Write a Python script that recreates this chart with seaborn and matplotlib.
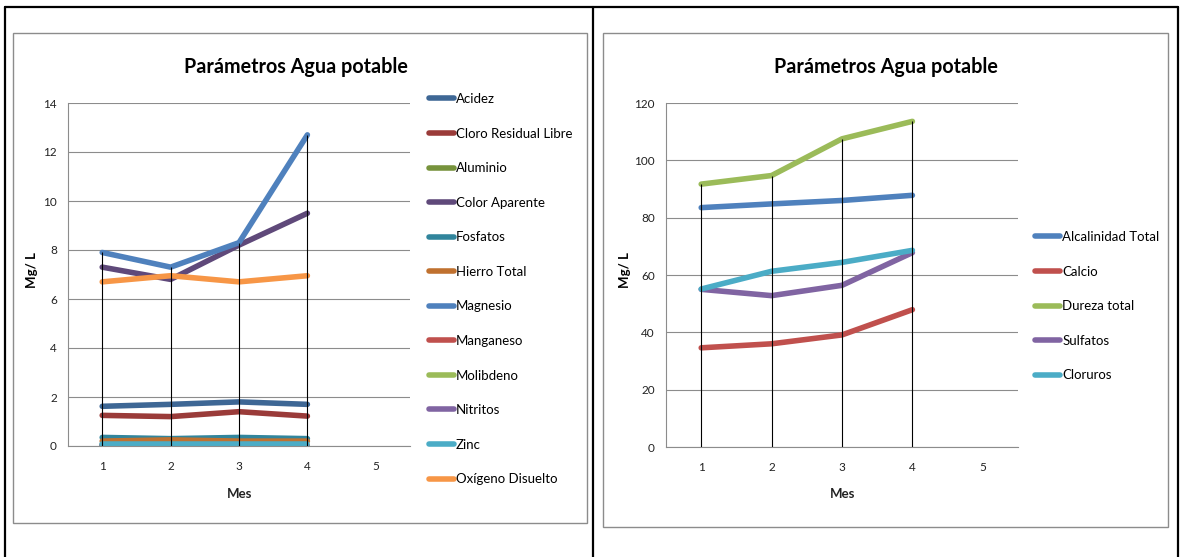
import pandas as pd
import seaborn as sns
import matplotlib.pyplot as plt
from matplotlib.patches import Rectangle
from matplotlib.lines import Line2D

# meses medidos
meses = [1, 2, 3, 4]
mes_ticks = [1, 2, 3, 4, 5]

# grafico izquierdo (Mg/L)
nombres_izq = ["Acidez", "Cloro Residual Libre", "Aluminio", "Color Aparente",
               "Fosfatos", "Hierro Total", "Magnesio", "Manganeso",
               "Molibdeno", "Nitritos", "Zinc", "Oxígeno Disuelto"]
acidez = [1.62, 1.7, 1.8, 1.7]
cloro = [1.25, 1.2, 1.4, 1.22]
aluminio = [0.02, 0.02, 0.02, 0.02]
color_ap = [7.3, 6.8, 8.2, 9.5]
fosfatos = [0.35, 0.3, 0.35, 0.3]
hierro = [0.2, 0.25, 0.2, 0.2]
magnesio = [7.9, 7.3, 8.3, 12.7]
manganeso = [0.05, 0.05, 0.05, 0.05]
molibdeno = [0.01, 0.01, 0.01, 0.01]
nitritos = [0.01, 0.01, 0.01, 0.01]
zinc = [0.08, 0.08, 0.08, 0.08]
oxigeno = [6.7, 6.95, 6.7, 6.95]
valores_izq = [acidez, cloro, aluminio, color_ap, fosfatos, hierro, magnesio,
               manganeso, molibdeno, nitritos, zinc, oxigeno]
colores_izq = ["#3E6795", "#9A3B39", "#77933C", "#5F497A", "#31859C", "#C0712F",
               "#4F81BD", "#C0504D", "#9BBB59", "#8064A2", "#4BACC6", "#F79646"]

# grafico derecho
nombres_der = ["Alcalinidad Total", "Calcio", "Dureza total", "Sulfatos", "Cloruros"]
alcalinidad = [83.5, 84.8, 86.0, 87.8]
calcio = [34.6, 36.0, 39.1, 47.9]
dureza = [91.7, 94.7, 107.5, 113.6]
sulfatos = [55.0, 52.8, 56.4, 67.8]
cloruros = [55.1, 61.3, 64.4, 68.6]
valores_der = [alcalinidad, calcio, dureza, sulfatos, cloruros]
colores_der = ["#4F81BD", "#C0504D", "#9BBB59", "#8064A2", "#4BACC6"]

sns.set_style("white")
plt.rcParams["font.family"] = ["Lato", "DejaVu Sans"]
plt.rcParams["text.color"] = "black"

W, H = 1183, 557
fig = plt.figure(figsize=(W / 100, H / 100), dpi=100)


def fx(px):
    return px / W


def fy(py):
    return 1 - py / H


def grafico(rect, nombres, valores, colores, ymax, ystep, leg_xy):
    df = pd.DataFrame({
        "Mes": [m for v in valores for m in meses],
        "valor": [x for v in valores for x in v],
        "serie": [n for n, v in zip(nombres, valores) for _ in v],
    })
    ax = fig.add_axes(rect)
    sns.lineplot(data=df, x="Mes", y="valor", hue="serie", hue_order=nombres,
                 palette=colores, linewidth=4, sort=False, legend=False,
                 ax=ax, solid_capstyle="round", solid_joinstyle="round")
    # lineas de caida desde el maximo
    tope = df.groupby("Mes")["valor"].max()
    ax.vlines(tope.index, 0, tope.values, colors="black", linewidth=0.8, zorder=5)
    ax.set_xlim(0.5, 5.5)
    ax.set_ylim(0, ymax)
    ax.set_xticks(mes_ticks)
    ax.set_yticks(range(0, ymax + 1, ystep))
    ax.yaxis.grid(True, color="#8c8c8c", linewidth=0.8)
    ax.set_axisbelow(True)
    for s in ["top", "right"]:
        ax.spines[s].set_visible(False)
    for s in ["left", "bottom"]:
        ax.spines[s].set_color("#8c8c8c")
        ax.spines[s].set_linewidth(0.8)
    ax.tick_params(axis="y", length=4, color="#8c8c8c", labelsize=8.5,
                   labelcolor="#222222", pad=4)
    ax.tick_params(axis="x", length=0, labelsize=8.5, labelcolor="#222222", pad=11)
    ax.set_xlabel("")
    ax.set_ylabel("")
    handles = [Line2D([0], [0], color=c, linewidth=4, solid_capstyle="round")
               for c in colores]
    ax.legend(handles, nombres, loc="upper left", bbox_to_anchor=leg_xy,
              bbox_transform=fig.transFigure, frameon=False, fontsize=9.5,
              handlelength=1.9, handletextpad=0.15, labelspacing=1.71,
              borderpad=0, borderaxespad=0)
    return ax


grafico([fx(68), fy(446), fx(410) - fx(68), fy(103) - fy(446)],
        nombres_izq, valores_izq, colores_izq, 14, 2, (fx(429), fy(93)))
grafico([fx(666), fy(447), fx(1018) - fx(666), fy(103) - fy(447)],
        nombres_der, valores_der, colores_der, 120, 20, (fx(1035), fy(231)))

# titulos y etiquetas
for cx, ylx, mx in [(296, 32, 240), (886, 625, 843)]:
    fig.text(fx(cx), fy(67), "Parámetros Agua potable", ha="center", va="center",
             fontsize=14.2, fontweight="bold")
    fig.text(fx(ylx), fy(270), "Mg/ L", ha="center", va="center", rotation=90,
             fontsize=9.5, fontweight="bold")
    fig.text(fx(mx), fy(494), "Mes", ha="center", va="center",
             fontsize=9.5, fontweight="bold", color="#222222")

# marcos de los graficos
fig.patches.append(Rectangle((fx(13), fy(523)), fx(587) - fx(13), fy(33) - fy(523),
                             transform=fig.transFigure, fill=False,
                             edgecolor="#8c8c8c", linewidth=1))
fig.patches.append(Rectangle((fx(603), fy(527)), fx(1168) - fx(603), fy(33) - fy(527),
                             transform=fig.transFigure, fill=False,
                             edgecolor="#8c8c8c", linewidth=1))

# bordes de la tabla
for xs, ys in [([5, 1178], [7, 7]), ([5, 5], [7, 557]), ([593, 593], [7, 557]),
               ([1178, 1178], [7, 557])]:
    fig.lines.append(Line2D([fx(x) for x in xs], [fy(y) for y in ys],
                            transform=fig.transFigure, color="black", linewidth=1.6))

fig.savefig("out.png", dpi=100)
